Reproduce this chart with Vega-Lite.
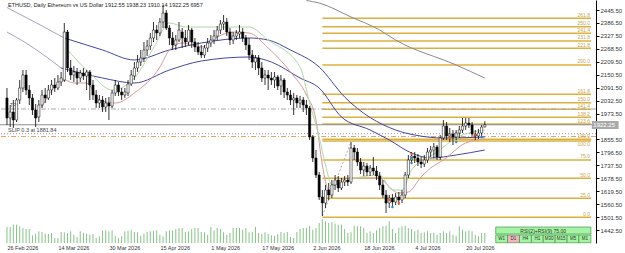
{
"$schema":"https://vega.github.io/schema/vega-lite/v6.json",
"width":596,"height":243,
"autosize":{"type":"none"},
"padding":{"left":0,"top":0,"right":29,"bottom":10},
"background":"white",
"config":{"view":{"stroke":null},"font":"Liberation Sans"},
"datasets":{
"candles":[
{"date":"2026-02-26","o":2044.3,"h":2089.9,"l":1921.2,"c":1953.1,"v":11200},
{"date":"2026-02-27","o":1953.1,"h":2012.4,"l":1912.1,"c":1980.5,"v":11200},
{"date":"2026-02-28","o":1980.5,"h":2035.2,"l":1907.6,"c":1944.0,"v":12800},
{"date":"2026-03-01","o":1944.0,"h":2044.3,"l":1934.9,"c":2035.2,"v":12800},
{"date":"2026-03-02","o":2035.2,"h":2126.4,"l":2017.0,"c":2089.9,"v":11700},
{"date":"2026-03-03","o":2089.9,"h":2172.0,"l":2071.7,"c":2149.2,"v":10500},
{"date":"2026-03-04","o":2149.2,"h":2172.0,"l":2058.0,"c":2080.8,"v":9800},
{"date":"2026-03-05","o":2080.8,"h":2103.6,"l":2012.4,"c":2044.3,"v":9800},
{"date":"2026-03-06","o":2044.3,"h":2062.6,"l":1966.8,"c":1989.6,"v":5400},
{"date":"2026-03-07","o":1989.6,"h":2017.0,"l":1912.1,"c":1953.1,"v":6500},
{"date":"2026-03-08","o":1957.7,"h":2035.2,"l":1934.9,"c":2012.4,"v":8200},
{"date":"2026-03-09","o":2012.4,"h":2080.8,"l":1998.7,"c":2058.0,"v":7700},
{"date":"2026-03-10","o":2058.0,"h":2089.9,"l":2021.5,"c":2044.3,"v":6500},
{"date":"2026-03-11","o":2044.3,"h":2103.6,"l":2035.2,"c":2080.8,"v":6300},
{"date":"2026-03-12","o":2080.8,"h":2126.4,"l":2058.0,"c":2103.6,"v":7000},
{"date":"2026-03-13","o":2103.6,"h":2135.5,"l":2071.7,"c":2089.9,"v":3500},
{"date":"2026-03-14","o":2089.9,"h":2149.2,"l":2080.8,"c":2117.3,"v":3500},
{"date":"2026-03-15","o":2117.3,"h":2162.9,"l":2099.0,"c":2135.5,"v":7700},
{"date":"2026-03-16","o":2126.4,"h":2386.2,"l":2117.3,"c":2345.2,"v":7500},
{"date":"2026-03-17","o":2345.2,"h":2354.3,"l":2162.9,"c":2181.1,"v":7000},
{"date":"2026-03-18","o":2181.1,"h":2217.6,"l":2126.4,"c":2149.2,"v":8200},
{"date":"2026-03-19","o":2149.2,"h":2190.2,"l":2117.3,"c":2162.9,"v":5800},
{"date":"2026-03-20","o":2162.9,"h":2181.1,"l":2103.6,"c":2135.5,"v":4200},
{"date":"2026-03-21","o":2135.5,"h":2172.0,"l":2117.3,"c":2158.3,"v":8200},
{"date":"2026-03-22","o":2158.3,"h":2181.1,"l":2126.4,"c":2144.6,"v":7000},
{"date":"2026-03-23","o":2144.6,"h":2172.0,"l":2080.8,"c":2162.9,"v":6500},
{"date":"2026-03-24","o":2162.9,"h":2172.0,"l":2035.2,"c":2103.6,"v":5800},
{"date":"2026-03-25","o":2103.6,"h":2126.4,"l":2035.2,"c":2058.0,"v":6300},
{"date":"2026-03-26","o":2058.0,"h":2080.8,"l":1998.7,"c":2021.5,"v":3500},
{"date":"2026-03-27","o":2021.5,"h":2058.0,"l":1998.7,"c":2035.2,"v":4700},
{"date":"2026-03-28","o":2035.2,"h":2053.4,"l":1980.5,"c":2003.3,"v":8900},
{"date":"2026-03-29","o":2003.3,"h":2044.3,"l":1980.5,"c":2021.5,"v":8900},
{"date":"2026-03-30","o":2021.5,"h":2048.9,"l":1944.0,"c":2007.8,"v":8200},
{"date":"2026-03-31","o":2007.8,"h":2080.8,"l":1998.7,"c":2067.1,"v":8900},
{"date":"2026-04-01","o":2067.1,"h":2126.4,"l":2053.4,"c":2103.6,"v":5100},
{"date":"2026-04-02","o":2103.6,"h":2117.3,"l":2053.4,"c":2071.7,"v":3500},
{"date":"2026-04-03","o":2071.7,"h":2089.9,"l":2035.2,"c":2058.0,"v":4700},
{"date":"2026-04-04","o":2058.0,"h":2089.9,"l":2044.3,"c":2071.7,"v":8200},
{"date":"2026-04-05","o":2067.1,"h":2126.4,"l":2053.4,"c":2108.1,"v":8600},
{"date":"2026-04-06","o":2108.1,"h":2172.0,"l":2099.0,"c":2149.2,"v":9300},
{"date":"2026-04-07","o":2144.6,"h":2208.4,"l":2126.4,"c":2181.1,"v":7700},
{"date":"2026-04-08","o":2181.1,"h":2240.4,"l":2162.9,"c":2208.4,"v":7500},
{"date":"2026-04-09","o":2208.4,"h":2263.2,"l":2190.2,"c":2226.7,"v":5100},
{"date":"2026-04-10","o":2226.7,"h":2299.6,"l":2208.4,"c":2263.2,"v":6500},
{"date":"2026-04-11","o":2263.2,"h":2308.7,"l":2235.8,"c":2281.4,"v":7700},
{"date":"2026-04-12","o":2281.4,"h":2340.7,"l":2263.2,"c":2317.9,"v":8200},
{"date":"2026-04-13","o":2317.9,"h":2390.8,"l":2299.6,"c":2354.3,"v":8600},
{"date":"2026-04-14","o":2354.3,"h":2377.1,"l":2308.7,"c":2340.7,"v":8900},
{"date":"2026-04-15","o":2340.7,"h":2409.0,"l":2327.0,"c":2390.8,"v":5800},
{"date":"2026-04-16","o":2390.8,"h":2468.3,"l":2363.4,"c":2431.8,"v":4700},
{"date":"2026-04-17","o":2431.8,"h":2445.5,"l":2354.3,"c":2363.4,"v":8200},
{"date":"2026-04-18","o":2363.4,"h":2377.1,"l":2285.9,"c":2317.9,"v":8900},
{"date":"2026-04-19","o":2317.9,"h":2345.2,"l":2263.2,"c":2285.9,"v":8900},
{"date":"2026-04-20","o":2285.9,"h":2331.5,"l":2263.2,"c":2308.7,"v":9800},
{"date":"2026-04-21","o":2308.7,"h":2390.8,"l":2299.6,"c":2354.3,"v":10500},
{"date":"2026-04-22","o":2345.2,"h":2363.4,"l":2272.3,"c":2317.9,"v":10500},
{"date":"2026-04-23","o":2317.9,"h":2354.3,"l":2276.8,"c":2299.6,"v":7700},
{"date":"2026-04-24","o":2299.6,"h":2377.1,"l":2285.9,"c":2354.3,"v":8200},
{"date":"2026-04-25","o":2354.3,"h":2363.4,"l":2272.3,"c":2299.6,"v":9800},
{"date":"2026-04-26","o":2299.6,"h":2317.9,"l":2254.0,"c":2276.8,"v":10500},
{"date":"2026-04-27","o":2276.8,"h":2299.6,"l":2240.4,"c":2254.0,"v":10500},
{"date":"2026-04-28","o":2254.0,"h":2285.9,"l":2226.7,"c":2240.4,"v":7700},
{"date":"2026-04-29","o":2240.4,"h":2285.9,"l":2226.7,"c":2272.3,"v":7500},
{"date":"2026-04-30","o":2272.3,"h":2317.9,"l":2254.0,"c":2295.1,"v":5800},
{"date":"2026-05-01","o":2295.1,"h":2331.5,"l":2276.8,"c":2308.7,"v":11200},
{"date":"2026-05-02","o":2308.7,"h":2354.3,"l":2290.5,"c":2327.0,"v":8900},
{"date":"2026-05-03","o":2327.0,"h":2372.6,"l":2308.7,"c":2354.3,"v":10500},
{"date":"2026-05-04","o":2354.3,"h":2399.9,"l":2336.1,"c":2381.7,"v":9800},
{"date":"2026-05-05","o":2381.7,"h":2422.7,"l":2354.3,"c":2390.8,"v":7500},
{"date":"2026-05-06","o":2390.8,"h":2409.0,"l":2327.0,"c":2345.2,"v":5800},
{"date":"2026-05-07","o":2345.2,"h":2363.4,"l":2285.9,"c":2308.7,"v":7000},
{"date":"2026-05-08","o":2308.7,"h":2345.2,"l":2290.5,"c":2327.0,"v":10500},
{"date":"2026-05-09","o":2327.0,"h":2354.3,"l":2308.7,"c":2340.7,"v":10500},
{"date":"2026-05-10","o":2336.1,"h":2377.1,"l":2317.9,"c":2345.2,"v":10500},
{"date":"2026-05-11","o":2345.2,"h":2363.4,"l":2299.6,"c":2317.9,"v":9300},
{"date":"2026-05-12","o":2317.9,"h":2331.5,"l":2263.2,"c":2285.9,"v":10500},
{"date":"2026-05-13","o":2285.9,"h":2317.9,"l":2217.6,"c":2240.4,"v":7500},
{"date":"2026-05-14","o":2240.4,"h":2263.2,"l":2181.1,"c":2208.4,"v":7700},
{"date":"2026-05-15","o":2208.4,"h":2240.4,"l":2172.0,"c":2226.7,"v":11200},
{"date":"2026-05-16","o":2226.7,"h":2240.4,"l":2149.2,"c":2181.1,"v":7000},
{"date":"2026-05-17","o":2181.1,"h":2208.4,"l":2117.3,"c":2135.5,"v":6500},
{"date":"2026-05-18","o":2135.5,"h":2172.0,"l":2103.6,"c":2149.2,"v":7500},
{"date":"2026-05-19","o":2149.2,"h":2172.0,"l":2080.8,"c":2135.5,"v":6300},
{"date":"2026-05-20","o":2135.5,"h":2162.9,"l":2103.6,"c":2126.4,"v":5400},
{"date":"2026-05-21","o":2126.4,"h":2162.9,"l":2089.9,"c":2140.1,"v":5100},
{"date":"2026-05-22","o":2140.1,"h":2149.2,"l":2080.8,"c":2099.0,"v":6300},
{"date":"2026-05-23","o":2099.0,"h":2149.2,"l":2058.0,"c":2126.4,"v":7700},
{"date":"2026-05-24","o":2126.4,"h":2135.5,"l":2044.3,"c":2071.7,"v":7000},
{"date":"2026-05-25","o":2071.7,"h":2089.9,"l":2035.2,"c":2058.0,"v":7700},
{"date":"2026-05-26","o":2058.0,"h":2080.8,"l":2012.4,"c":2035.2,"v":4200},
{"date":"2026-05-27","o":2035.2,"h":2067.1,"l":1966.8,"c":2044.3,"v":3500},
{"date":"2026-05-28","o":2044.3,"h":2058.0,"l":1998.7,"c":2021.5,"v":7700},
{"date":"2026-05-29","o":2021.5,"h":2053.4,"l":1998.7,"c":2035.2,"v":9800},
{"date":"2026-05-30","o":2035.2,"h":2048.9,"l":1980.5,"c":2012.4,"v":10500},
{"date":"2026-05-31","o":2012.4,"h":2035.2,"l":1966.8,"c":1998.7,"v":10500},
{"date":"2026-06-01","o":1998.7,"h":2007.8,"l":1852.8,"c":1866.5,"v":12000},
{"date":"2026-06-02","o":1866.5,"h":1875.6,"l":1752.5,"c":1770.8,"v":9300},
{"date":"2026-06-03","o":1770.8,"h":1807.3,"l":1679.6,"c":1693.3,"v":10500},
{"date":"2026-06-04","o":1693.3,"h":1707.0,"l":1579.3,"c":1593.0,"v":14000},
{"date":"2026-06-05","o":1593.0,"h":1624.9,"l":1506.4,"c":1565.6,"v":16800},
{"date":"2026-06-06","o":1565.6,"h":1647.7,"l":1542.8,"c":1624.9,"v":15200},
{"date":"2026-06-07","o":1624.9,"h":1656.8,"l":1579.3,"c":1602.1,"v":14000},
{"date":"2026-06-08","o":1602.1,"h":1670.5,"l":1588.4,"c":1647.7,"v":14500},
{"date":"2026-06-09","o":1647.7,"h":1693.3,"l":1624.9,"c":1670.5,"v":13500},
{"date":"2026-06-10","o":1670.5,"h":1688.7,"l":1615.8,"c":1634.0,"v":12800},
{"date":"2026-06-11","o":1634.0,"h":1679.6,"l":1624.9,"c":1661.4,"v":12800},
{"date":"2026-06-12","o":1661.4,"h":1688.7,"l":1643.1,"c":1670.5,"v":9800},
{"date":"2026-06-13","o":1670.5,"h":1693.3,"l":1643.1,"c":1661.4,"v":7000},
{"date":"2026-06-14","o":1661.4,"h":1843.7,"l":1652.2,"c":1816.4,"v":7500},
{"date":"2026-06-15","o":1816.4,"h":1830.0,"l":1761.7,"c":1798.1,"v":12100},
{"date":"2026-06-16","o":1798.1,"h":1816.4,"l":1734.3,"c":1752.5,"v":11700},
{"date":"2026-06-17","o":1752.5,"h":1770.8,"l":1697.8,"c":1716.1,"v":11700},
{"date":"2026-06-18","o":1716.1,"h":1752.5,"l":1688.7,"c":1734.3,"v":10500},
{"date":"2026-06-19","o":1734.3,"h":1748.0,"l":1688.7,"c":1707.0,"v":7000},
{"date":"2026-06-20","o":1707.0,"h":1738.9,"l":1688.7,"c":1725.2,"v":8200},
{"date":"2026-06-21","o":1725.2,"h":1775.3,"l":1693.3,"c":1711.5,"v":7000},
{"date":"2026-06-22","o":1711.5,"h":1734.3,"l":1670.5,"c":1688.7,"v":8900},
{"date":"2026-06-23","o":1688.7,"h":1707.0,"l":1624.9,"c":1647.7,"v":10500},
{"date":"2026-06-24","o":1647.7,"h":1670.5,"l":1588.4,"c":1602.1,"v":11700},
{"date":"2026-06-25","o":1602.1,"h":1624.9,"l":1520.0,"c":1565.6,"v":12100},
{"date":"2026-06-26","o":1565.6,"h":1602.1,"l":1542.8,"c":1588.4,"v":15200},
{"date":"2026-06-27","o":1588.4,"h":1606.7,"l":1551.9,"c":1570.2,"v":9800},
{"date":"2026-06-28","o":1570.2,"h":1611.2,"l":1556.5,"c":1593.0,"v":7000},
{"date":"2026-06-29","o":1593.0,"h":1615.8,"l":1556.5,"c":1579.3,"v":10500},
{"date":"2026-06-30","o":1579.3,"h":1624.9,"l":1565.6,"c":1602.1,"v":11700},
{"date":"2026-07-01","o":1602.1,"h":1707.0,"l":1588.4,"c":1693.3,"v":12100},
{"date":"2026-07-02","o":1693.3,"h":1784.5,"l":1679.6,"c":1761.7,"v":10500},
{"date":"2026-07-03","o":1761.7,"h":1798.1,"l":1752.5,"c":1779.9,"v":9800},
{"date":"2026-07-04","o":1779.9,"h":1798.1,"l":1748.0,"c":1770.8,"v":8200},
{"date":"2026-07-05","o":1770.8,"h":1789.0,"l":1734.3,"c":1752.5,"v":9300},
{"date":"2026-07-06","o":1752.5,"h":1775.3,"l":1725.2,"c":1743.4,"v":7000},
{"date":"2026-07-07","o":1743.4,"h":1784.5,"l":1729.8,"c":1761.7,"v":7500},
{"date":"2026-07-08","o":1761.7,"h":1816.4,"l":1748.0,"c":1798.1,"v":8200},
{"date":"2026-07-09","o":1798.1,"h":1825.5,"l":1775.3,"c":1807.3,"v":7000},
{"date":"2026-07-10","o":1807.3,"h":1839.2,"l":1770.8,"c":1820.9,"v":7000},
{"date":"2026-07-11","o":1820.9,"h":1830.0,"l":1761.7,"c":1775.3,"v":5800},
{"date":"2026-07-12","o":1775.3,"h":1875.6,"l":1761.7,"c":1862.0,"v":7000},
{"date":"2026-07-13","o":1862.0,"h":1944.0,"l":1852.8,"c":1916.7,"v":8200},
{"date":"2026-07-14","o":1916.7,"h":1934.9,"l":1852.8,"c":1871.1,"v":7000},
{"date":"2026-07-15","o":1871.1,"h":1907.6,"l":1843.7,"c":1880.2,"v":8200},
{"date":"2026-07-16","o":1880.2,"h":1898.4,"l":1830.0,"c":1866.5,"v":5800},
{"date":"2026-07-17","o":1866.5,"h":1898.4,"l":1852.8,"c":1884.8,"v":5100},
{"date":"2026-07-18","o":1884.8,"h":1916.7,"l":1862.0,"c":1898.4,"v":11700},
{"date":"2026-07-19","o":1898.4,"h":1953.1,"l":1884.8,"c":1916.7,"v":9300},
{"date":"2026-07-20","o":1916.7,"h":1953.1,"l":1898.4,"c":1930.3,"v":8200},
{"date":"2026-07-21","o":1930.3,"h":1953.1,"l":1907.6,"c":1921.2,"v":8900},
{"date":"2026-07-22","o":1921.2,"h":1934.9,"l":1871.1,"c":1880.2,"v":8200},
{"date":"2026-07-23","o":1880.2,"h":1898.4,"l":1852.8,"c":1871.1,"v":5800},
{"date":"2026-07-24","o":1871.1,"h":1903.0,"l":1857.4,"c":1884.8,"v":4700},
{"date":"2026-07-25","o":1884.8,"h":1921.2,"l":1871.1,"c":1912.1,"v":7000},
{"date":"2026-07-26","o":1912.55,"h":1938.23,"l":1910.14,"c":1922.25,"v":6957}
],
"mas":[
{"s":"u0","date":"2026-02-26","p":2456.9},{"s":"u0","date":"2026-03-07","p":2388.5},{"s":"u0","date":"2026-03-16","p":2317.9},
{"s":"u","date":"2026-03-16","p":2317.9},{"s":"u","date":"2026-03-28","p":2263.2},{"s":"u","date":"2026-04-07","p":2217.6},{"s":"u","date":"2026-04-18","p":2263.2},{"s":"u","date":"2026-04-28","p":2295.1},{"s":"u","date":"2026-05-13","p":2317.9},{"s":"u","date":"2026-05-19","p":2308.7},{"s":"u","date":"2026-05-26","p":2263.2},{"s":"u","date":"2026-06-04","p":2185.6},{"s":"u","date":"2026-06-12","p":2048.9},{"s":"u","date":"2026-06-28","p":1898.4},{"s":"u","date":"2026-07-04","p":1875.6},{"s":"u","date":"2026-07-13","p":1862.0},{"s":"u","date":"2026-07-26","p":1866.5},
{"s":"l0","date":"2026-02-26","p":2345.2},{"s":"l0","date":"2026-03-04","p":2295.1},{"s":"l0","date":"2026-03-15","p":2181.1},
{"s":"l","date":"2026-03-15","p":2181.1},{"s":"l","date":"2026-03-28","p":2135.5},{"s":"l","date":"2026-04-07","p":2112.7},{"s":"l","date":"2026-04-18","p":2172.0},{"s":"l","date":"2026-04-28","p":2213.0},{"s":"l","date":"2026-05-13","p":2231.2},{"s":"l","date":"2026-05-20","p":2208.4},{"s":"l","date":"2026-05-29","p":2135.5},{"s":"l","date":"2026-06-04","p":2089.9},{"s":"l","date":"2026-06-11","p":1957.7},{"s":"l","date":"2026-06-20","p":1898.4},{"s":"l","date":"2026-06-26","p":1852.8},{"s":"l","date":"2026-07-03","p":1793.6},{"s":"l","date":"2026-07-09","p":1770.8},{"s":"l","date":"2026-07-17","p":1784.5},{"s":"l","date":"2026-07-26","p":1807.3},
{"s":"m200","date":"2026-05-31","p":2488.8},{"s":"m200","date":"2026-06-04","p":2477.4},{"s":"m200","date":"2026-06-14","p":2413.6},{"s":"m200","date":"2026-06-23","p":2354.3},{"s":"m200","date":"2026-06-28","p":2308.7},{"s":"m200","date":"2026-07-17","p":2194.8},{"s":"m200","date":"2026-07-26","p":2135.5},
{"s":"fast","date":"2026-03-09","p":2003.3},{"s":"fast","date":"2026-03-16","p":2126.4},{"s":"fast","date":"2026-03-19","p":2112.7},{"s":"fast","date":"2026-03-23","p":2112.7},{"s":"fast","date":"2026-03-27","p":2035.2},{"s":"fast","date":"2026-04-01","p":2021.5},{"s":"fast","date":"2026-04-07","p":2067.1},{"s":"fast","date":"2026-04-15","p":2185.6},{"s":"fast","date":"2026-04-18","p":2263.2},{"s":"fast","date":"2026-04-22","p":2295.1},{"s":"fast","date":"2026-04-28","p":2276.8},{"s":"fast","date":"2026-05-03","p":2322.4},{"s":"fast","date":"2026-05-08","p":2345.2},{"s":"fast","date":"2026-05-13","p":2340.7},{"s":"fast","date":"2026-05-19","p":2272.3},{"s":"fast","date":"2026-05-26","p":2162.9},{"s":"fast","date":"2026-05-31","p":2058.0},{"s":"fast","date":"2026-06-03","p":1944.0},{"s":"fast","date":"2026-06-05","p":1738.9},{"s":"fast","date":"2026-06-07","p":1624.9},{"s":"fast","date":"2026-06-09","p":1656.8},{"s":"fast","date":"2026-06-14","p":1679.6},{"s":"fast","date":"2026-06-23","p":1679.6},{"s":"fast","date":"2026-06-26","p":1638.6},{"s":"fast","date":"2026-06-29","p":1611.2},{"s":"fast","date":"2026-07-02","p":1615.8},{"s":"fast","date":"2026-07-06","p":1684.2},{"s":"fast","date":"2026-07-09","p":1725.2},{"s":"fast","date":"2026-07-13","p":1761.7},{"s":"fast","date":"2026-07-20","p":1839.2},{"s":"fast","date":"2026-07-26","p":1857.4},
{"s":"green","date":"2026-03-17","p":2263.2},{"s":"green","date":"2026-03-24","p":2158.3},{"s":"green","date":"2026-03-31","p":2080.8},{"s":"green","date":"2026-04-07","p":2135.5},{"s":"green","date":"2026-04-13","p":2272.3},{"s":"green","date":"2026-04-18","p":2386.2},{"s":"green","date":"2026-04-23","p":2368.0},{"s":"green","date":"2026-05-13","p":2368.0},{"s":"green","date":"2026-05-19","p":2308.7},{"s":"green","date":"2026-05-29","p":2185.6},{"s":"green","date":"2026-06-01","p":2021.5},{"s":"green","date":"2026-06-04","p":1866.5},{"s":"green","date":"2026-06-06","p":1738.9},{"s":"green","date":"2026-06-08","p":1647.7},{"s":"green","date":"2026-06-13","p":1670.5},{"s":"green","date":"2026-06-23","p":1693.3},{"s":"green","date":"2026-06-27","p":1624.9},{"s":"green","date":"2026-06-30","p":1624.9},{"s":"green","date":"2026-07-03","p":1716.1},{"s":"green","date":"2026-07-11","p":1798.1},{"s":"green","date":"2026-07-17","p":1862.0},{"s":"green","date":"2026-07-26","p":1898.4}
],
"fib":[
{"date":"2026-06-05","end":"2026-08-28T08:00:00Z","p":2407.7,"lab":"261.8","pos":"above"},
{"date":"2026-06-05","end":"2026-08-28T08:00:00Z","p":2369.4,"lab":"250.0","pos":"above"},
{"date":"2026-06-05","end":"2026-08-28T08:00:00Z","p":2339.3,"lab":"241.4","pos":"above"},
{"date":"2026-06-05","end":"2026-08-28T08:00:00Z","p":2304.2,"lab":"231.8","pos":"above"},
{"date":"2026-06-05","end":"2026-08-28T08:00:00Z","p":2270.9,"lab":"221.8","pos":"above"},
{"date":"2026-06-05","end":"2026-08-28T08:00:00Z","p":2194.8,"lab":"200.0","pos":"above"},
{"date":"2026-06-05","end":"2026-08-28T08:00:00Z","p":2061.2,"lab":"161.8","pos":"above"},
{"date":"2026-06-05","end":"2026-08-28T08:00:00Z","p":2023.0,"lab":"150.0","pos":"above"},
{"date":"2026-06-05","end":"2026-08-28T08:00:00Z","p":1992.8,"lab":"141.4","pos":"above"},
{"date":"2026-06-05","end":"2026-08-28T08:00:00Z","p":1956.3,"lab":"138.2","pos":"above"},
{"date":"2026-06-05","end":"2026-08-28T08:00:00Z","p":1925.8,"lab":"123.6","pos":"above"},
{"date":"2026-06-05","end":"2026-08-28T08:00:00Z","p":1856.0,"lab":"100.0","pos":"above"},
{"date":"2026-06-05","end":"2026-08-28T08:00:00Z","p":1848.3,"lab":"100.0","pos":"below"},
{"date":"2026-06-05","end":"2026-08-28T08:00:00Z","p":1761.7,"lab":"75.0","pos":"above"},
{"date":"2026-06-05","end":"2026-08-28T08:00:00Z","p":1678.2,"lab":"50.0","pos":"above"},
{"date":"2026-06-05","end":"2026-08-28T08:00:00Z","p":1587.1,"lab":"25.0","pos":"above"},
{"date":"2026-06-05","end":"2026-08-28T08:00:00Z","p":1500.4,"lab":"0.0","pos":"above"}
],
"fibbase":[{"date":"2026-06-05","p":1506.4},{"date":"2026-06-14","p":1843.7}],
"signals":[
{"date":"2026-06-26","p":1579.3,"sig":"sell"},{"date":"2026-06-27","p":1547.4,"sig":"buy"},{"date":"2026-06-29","p":1565.6,"sig":"sell"},
{"date":"2026-07-03","p":1789.0,"sig":"sell"},{"date":"2026-07-03","p":1770.8,"sig":"buy"},{"date":"2026-07-03","p":1747.9,"sig":"buy"},
{"date":"2026-07-15","p":1861.9,"sig":"sell"},{"date":"2026-07-17","p":1843.7,"sig":"buy"},{"date":"2026-07-23","p":1875.6,"sig":"sell"},{"date":"2026-07-25","p":1866.5,"sig":"buy"}
],
"panel":[
{"lab":"W1","from":"2026-07-29T10:00:00Z","to":"2026-08-02T03:00:00Z","mid":"2026-07-31T06:00:00Z","top":1419.7,"bot":1384.5,"p":1402.1},
{"lab":"D1","from":"2026-08-02T03:00:00Z","to":"2026-08-05T21:00:00Z","mid":"2026-08-04T00:00:00Z","top":1419.7,"bot":1384.5,"p":1402.1},
{"lab":"H4","from":"2026-08-05T21:00:00Z","to":"2026-08-09T15:00:00Z","mid":"2026-08-07T18:00:00Z","top":1419.7,"bot":1384.5,"p":1402.1},
{"lab":"H1","from":"2026-08-09T15:00:00Z","to":"2026-08-13T08:00:00Z","mid":"2026-08-11T12:00:00Z","top":1419.7,"bot":1384.5,"p":1402.1},
{"lab":"M30","from":"2026-08-13T08:00:00Z","to":"2026-08-17T02:00:00Z","mid":"2026-08-15T05:00:00Z","top":1419.7,"bot":1384.5,"p":1402.1},
{"lab":"M15","from":"2026-08-17T02:00:00Z","to":"2026-08-20T20:00:00Z","mid":"2026-08-18T23:00:00Z","top":1419.7,"bot":1384.5,"p":1402.1},
{"lab":"M5","from":"2026-08-20T20:00:00Z","to":"2026-08-24T13:00:00Z","mid":"2026-08-22T17:00:00Z","top":1419.7,"bot":1384.5,"p":1402.1},
{"lab":"M1","from":"2026-08-24T13:00:00Z","to":"2026-08-28T07:00:00Z","mid":"2026-08-26T10:00:00Z","top":1419.7,"bot":1384.5,"p":1402.1}
]
},
"layer":[
{
"data":{"name":"candles"},
"mark":{"type":"rule","color":"#86c286","strokeWidth":1},
"encoding":{
"x":{"field":"date","type":"temporal","scale":{"type":"utc","domain":[{"year":2026,"month":2,"date":25,"hours":9,"minutes":12,"utc":true},{"year":2026,"month":8,"date":28,"hours":8,"utc":true}]},
"axis":{"values":[{"year":2026,"month":2,"date":26,"utc":true},{"year":2026,"month":3,"date":14,"utc":true},{"year":2026,"month":3,"date":30,"utc":true},{"year":2026,"month":4,"date":15,"utc":true},{"year":2026,"month":5,"date":1,"utc":true},{"year":2026,"month":5,"date":17,"utc":true},{"year":2026,"month":6,"date":2,"utc":true},{"year":2026,"month":6,"date":18,"utc":true},{"year":2026,"month":7,"date":4,"utc":true},{"year":2026,"month":7,"date":20,"utc":true}],
"format":"%-d %b %Y","labelAlign":"left","labelFontSize":5.5,"labelColor":"#333","ticks":false,"domain":false,"grid":false,"labelPadding":2,"labelFlush":false,"labelOverlap":false,"title":null}},
"y":{"field":"v","type":"quantitative","scale":{"domain":[0,170100],"nice":false,"zero":true},"axis":null},
"y2":{"datum":0}
}
},
{
"data":{"name":"fib"},
"mark":{"type":"rule","color":"#dcb040","strokeWidth":1.5},
"encoding":{
"x":{"field":"date","type":"temporal"},
"x2":{"field":"end"},
"y":{"field":"p","type":"quantitative","scale":{"domain":[1383.3,2491.1],"nice":false,"zero":false},"axis":null}
}
},
{
"data":{"name":"fib"},
"transform":[{"filter":"datum.pos == 'above'"}],
"mark":{"type":"text","align":"right","baseline":"bottom","dx":-1,"dy":-0.5,"fontSize":5,"color":"#c9a54a"},
"encoding":{
"x":{"field":"end","type":"temporal"},
"y":{"field":"p","type":"quantitative","scale":{"domain":[1383.3,2491.1],"nice":false,"zero":false},"axis":null},
"text":{"field":"lab"}
}
},
{
"data":{"name":"fib"},
"transform":[{"filter":"datum.pos == 'below'"}],
"mark":{"type":"text","align":"right","baseline":"top","dx":-1,"dy":1,"fontSize":5,"color":"#c9a54a"},
"encoding":{
"x":{"field":"end","type":"temporal"},
"y":{"field":"p","type":"quantitative","scale":{"domain":[1383.3,2491.1],"nice":false,"zero":false},"axis":null},
"text":{"field":"lab"}
}
},
{"data":{"values":[{"p":1994.2}]},"mark":{"type":"rule","color":"#a8a8a8","strokeWidth":1,"strokeDash":[5,2,1,2]},"encoding":{"y":{"field":"p","type":"quantitative","scale":{"domain":[1383.3,2491.1],"nice":false,"zero":false},"axis":null}}},
{"data":{"values":[{"p":1868.8}]},"mark":{"type":"rule","color":"#e0a868","strokeWidth":1,"strokeDash":[5,2,1,2]},"encoding":{"y":{"field":"p","type":"quantitative","scale":{"domain":[1383.3,2491.1],"nice":false,"zero":false},"axis":null}}},
{"data":{"values":[{"p":1881.84}]},"mark":{"type":"rule","color":"#9a9a9a","strokeWidth":1,"strokeDash":[1,2]},"encoding":{"y":{"field":"p","type":"quantitative","scale":{"domain":[1383.3,2491.1],"nice":false,"zero":false},"axis":null}}},
{"data":{"values":[{"p":1922.25}]},"mark":{"type":"rule","color":"#8c8c8c","strokeWidth":1},"encoding":{"y":{"field":"p","type":"quantitative","scale":{"domain":[1383.3,2491.1],"nice":false,"zero":false},"axis":null}}},
{
"data":{"name":"mas"},
"mark":{"type":"line","strokeWidth":1,"interpolate":"monotone"},
"encoding":{
"x":{"field":"date","type":"temporal"},
"y":{"field":"p","type":"quantitative","scale":{"domain":[1383.3,2491.1],"nice":false,"zero":false},"axis":null},
"color":{"field":"s","type":"nominal","scale":{"domain":["u0","u","l0","l","m200","fast","green"],"range":["#a4a4bc","#46469c","#a4a4bc","#46469c","#8a8a8a","#d49a9a","#b0d8a8"]},"legend":null}
}
},
{
"data":{"name":"fibbase"},
"mark":{"type":"line","color":"#909090","strokeWidth":0.8,"strokeDash":[2,2]},
"encoding":{
"x":{"field":"date","type":"temporal"},
"y":{"field":"p","type":"quantitative","scale":{"domain":[1383.3,2491.1],"nice":false,"zero":false},"axis":null}
}
},
{
"data":{"name":"candles"},
"mark":{"type":"rule","color":"#000","strokeWidth":0.8},
"encoding":{
"x":{"field":"date","type":"temporal"},
"y":{"field":"l","type":"quantitative","scale":{"domain":[1383.3,2491.1],"nice":false,"zero":false},"axis":null},
"y2":{"field":"h"}
}
},
{
"data":{"name":"candles"},
"mark":{"type":"bar","size":2.2,"stroke":"#000","strokeWidth":0.5},
"encoding":{
"x":{"field":"date","type":"temporal"},
"y":{"field":"o","type":"quantitative","scale":{"domain":[1383.3,2491.1],"nice":false,"zero":false},
"axis":{"orient":"right","values":[2445.5,2386.5,2327.5,2268.5,2209.5,2150.5,2091.5,2032.5,1973.5,1855.5,1796.5,1737.5,1678.5,1619.5,1560.5,1501.5,1442.5],"format":".2f","labelFontSize":6,"labelColor":"#333","tickSize":3,"tickColor":"#000","domainColor":"#000","domainWidth":1,"grid":false,"labelPadding":1,"title":null,"labelFlush":false,"labelOverlap":false}},
"y2":{"field":"c"},
"fill":{"condition":{"test":"datum.c >= datum.o","value":"#ffffff"},"value":"#000000"}
}
},
{
"data":{"name":"signals"},
"mark":{"type":"point","shape":"diamond","filled":true,"size":10,"opacity":1},
"encoding":{
"x":{"field":"date","type":"temporal"},
"y":{"field":"p","type":"quantitative","scale":{"domain":[1383.3,2491.1],"nice":false,"zero":false},"axis":null},
"color":{"condition":{"test":"datum.sig == 'sell'","value":"#e0603a"},"value":"#2a86cc"}
}
},
{
"data":{"values":[{"date":"2026-02-26","p":2469.7,"t":"ETHUSD, Daily  Ethereum vs US Dollar  1912.55 1938.23 1910.14 1922.25  6957"}]},
"mark":{"type":"text","align":"left","baseline":"middle","dx":1,"fontSize":5.5,"color":"#222"},
"encoding":{
"x":{"field":"date","type":"temporal"},
"y":{"field":"p","type":"quantitative","scale":{"domain":[1383.3,2491.1],"nice":false,"zero":false},"axis":null},
"text":{"field":"t"}
}
},
{
"data":{"values":[{"date":"2026-02-26","p":1881.84,"t":"SLIP 0.3 at 1881.84"}]},
"mark":{"type":"text","align":"left","baseline":"bottom","dx":1,"dy":-0.5,"fontSize":5.5,"color":"#444"},
"encoding":{
"x":{"field":"date","type":"temporal"},
"y":{"field":"p","type":"quantitative","scale":{"domain":[1383.3,2491.1],"nice":false,"zero":false},"axis":null},
"text":{"field":"t"}
}
},
{
"data":{"values":[{"date":"2026-02-26","p":1994.2,"t":"TP"}]},
"mark":{"type":"text","align":"left","baseline":"bottom","dx":3,"dy":-0.5,"fontSize":5,"color":"#555"},
"encoding":{
"x":{"field":"date","type":"temporal"},
"y":{"field":"p","type":"quantitative","scale":{"domain":[1383.3,2491.1],"nice":false,"zero":false},"axis":null},
"text":{"field":"t"}
}
},
{
"data":{"values":[{"from":"2026-08-28T14:00:00Z","to":"2026-09-06T00:00:00Z","top":1939.5,"bot":1903.0}]},
"mark":{"type":"rect","fill":"#a9a9a9"},
"encoding":{
"x":{"field":"from","type":"temporal"},
"x2":{"field":"to"},
"y":{"field":"top","type":"quantitative","scale":{"domain":[1383.3,2491.1],"nice":false,"zero":false},"axis":null},
"y2":{"field":"bot"}
}
},
{
"data":{"values":[{"date":"2026-08-28T14:00:00Z","p":1922.25,"t":"1922.25"}]},
"mark":{"type":"text","align":"left","baseline":"middle","dx":1.5,"fontSize":6,"color":"#ffffff"},
"encoding":{
"x":{"field":"date","type":"temporal"},
"y":{"field":"p","type":"quantitative","scale":{"domain":[1383.3,2491.1],"nice":false,"zero":false},"axis":null},
"text":{"field":"t"}
}
},
{
"data":{"values":[{"from":"2026-07-29T10:00:00Z","to":"2026-08-28T07:00:00Z","top":1456.2,"bot":1424.2}]},
"mark":{"type":"rect","fill":"#a6f2a6","stroke":"#2e8b2e","strokeWidth":0.6},
"encoding":{
"x":{"field":"from","type":"temporal"},
"x2":{"field":"to"},
"y":{"field":"top","type":"quantitative","scale":{"domain":[1383.3,2491.1],"nice":false,"zero":false},"axis":null},
"y2":{"field":"bot"}
}
},
{
"data":{"values":[{"date":"2026-08-13T08:00:00Z","p":1440.2,"t":"RSI(2)+RSI(9) 75.00"}]},
"mark":{"type":"text","align":"center","baseline":"middle","fontSize":5,"color":"#1a3a1a"},
"encoding":{
"x":{"field":"date","type":"temporal"},
"y":{"field":"p","type":"quantitative","scale":{"domain":[1383.3,2491.1],"nice":false,"zero":false},"axis":null},
"text":{"field":"t"}
}
},
{
"data":{"name":"panel"},
"mark":{"type":"rect","stroke":"#2e8b2e","strokeWidth":0.6},
"encoding":{
"x":{"field":"from","type":"temporal"},
"x2":{"field":"to"},
"y":{"field":"top","type":"quantitative","scale":{"domain":[1383.3,2491.1],"nice":false,"zero":false},"axis":null},
"y2":{"field":"bot"},
"fill":{"condition":{"test":"datum.lab == 'D1'","value":"#f5b4c2"},"value":"#a6f2a6"}
}
},
{
"data":{"name":"panel"},
"mark":{"type":"text","align":"center","baseline":"middle","fontSize":4.5,"color":"#1a3a1a"},
"encoding":{
"x":{"field":"mid","type":"temporal"},
"y":{"field":"p","type":"quantitative","scale":{"domain":[1383.3,2491.1],"nice":false,"zero":false},"axis":null},
"text":{"field":"lab"}
}
}
],
"resolve":{"scale":{"y":"independent"}}
}
